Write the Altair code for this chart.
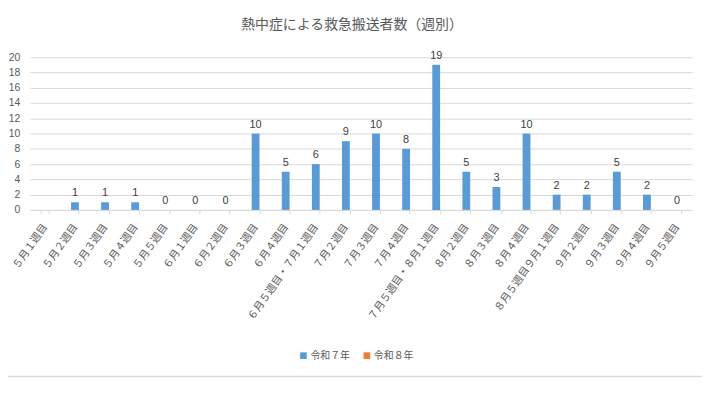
import altair as alt
import pandas as pd

categories = ["５月１週目", "５月２週目", "５月３週目", "５月４週目", "５月５週目",
              "６月１週目", "６月２週目", "６月３週目", "６月４週目", "６月５週目・７月１週目",
              "７月２週目", "７月３週目", "７月４週目", "７月５週目・８月１週目", "８月２週目",
              "８月３週目", "８月４週目", "８月５週目９月１週目", "９月２週目", "９月３週目",
              "９月４週目", "９月５週目"]
r7_values = [None, 1, 1, 1, 0, 0, 0, 10, 5, 6, 9, 10, 8, 19, 5, 3, 10, 2, 2, 5, 2, 0]
series_names = ["令和７年", "令和８年"]
series_colors = ["#5b9bd5", "#ed7d31"]
y_ticks = list(range(0, 21, 2))
title_text = "熱中症による救急搬送者数（週別）"

df = pd.DataFrame({"week": categories, "count": r7_values, "series": series_names[0]})

FONT = "Noto Sans CJK JP"
NUMFONT = "Liberation Sans"
W, H = 668, 154

x_scale = alt.Scale(paddingInner=0.74, paddingOuter=0.37)
x_axis = alt.Axis(labelAngle=-55, labelAlign="right", labelBaseline="middle",
                  labelPadding=11, labelFont=FONT, labelFontSize=10.5,
                  labelColor="#595959", tickBand="extent", tickColor="#d9d9d9",
                  tickSize=4, domainColor="#d9d9d9", labelLimit=200, grid=False,
                  labelOverlap=False)
y_scale = alt.Scale(domain=[0, 20], nice=False)
y_axis = alt.Axis(values=y_ticks, tickCount=11, ticks=False, domain=False, labelPadding=10,
                  labelFont=NUMFONT, labelFontSize=10.5, labelOverlap=False,
                  labelColor="#595959", gridColor="#d9d9d9")

bars = alt.Chart(df).mark_bar().encode(
    x=alt.X("week:N", sort=categories, title=None, scale=x_scale, axis=x_axis),
    y=alt.Y("count:Q", scale=y_scale, title=None, axis=y_axis),
    color=alt.Color("series:N", scale=alt.Scale(domain=series_names, range=series_colors),
                    legend=alt.Legend(title=None, orient="none", direction="horizontal",
                                      legendX=271, legendY=296, symbolType="square",
                                      symbolSize=45, symbolStrokeWidth=0,
                                      labelFont=FONT, labelFontSize=10,
                                      labelColor="#595959", columnPadding=12,
                                      symbolOffset=0, labelOffset=2)),
)

labels = alt.Chart(df).mark_text(dy=-9, font=NUMFONT, fontSize=11,
                                 color="#404040").encode(
    x=alt.X("week:N", sort=categories, title=None, scale=x_scale, axis=x_axis),
    y=alt.Y("count:Q", scale=y_scale, title=None, axis=y_axis),
    text=alt.Text("count:Q"),
)

border = alt.Chart(pd.DataFrame({"a": [0]})).mark_rule(color="#d9d9d9", strokeWidth=1.5).encode(
    x=alt.value(-22), x2=alt.value(680), y=alt.value(322)
)

chart = alt.layer(bars, labels, border).properties(
    width=W, height=H, autosize=alt.AutoSizeParams(type="none"),
    padding={"left": 22, "top": 48, "right": 10, "bottom": 180},
    title=alt.TitleParams(title_text, font=FONT, fontSize=14, fontWeight="normal",
                          color="#595959", offset=18, dx=-9),
).configure_view(stroke=None)

chart.save("out.html", embed_options={"renderer": "svg", "actions": False})
